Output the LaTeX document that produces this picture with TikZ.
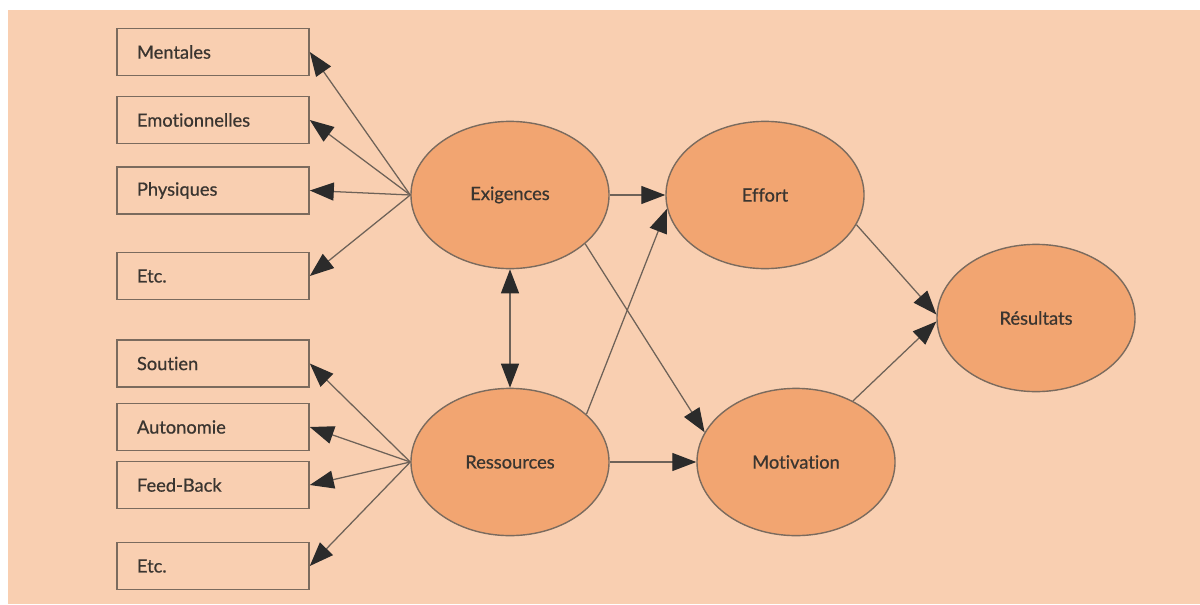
\documentclass[tikz,border=0pt]{standalone}
\usepackage{fontspec}
\setmainfont{Lato}[FakeBold=0.6,Ligatures=NoCommon]
\usetikzlibrary{arrows.meta,shapes.geometric}
\definecolor{peche}{HTML}{F9CFB1}
\definecolor{orangec}{HTML}{F2A571}
\definecolor{bordure}{HTML}{7B6B5E}
\definecolor{trait}{HTML}{6E6258}
\definecolor{pointe}{HTML}{2B2B2B}
\definecolor{texte}{HTML}{3A3530}
\begin{document}
\begin{tikzpicture}[x=0.025cm,y=-0.025cm]
\tikzstyle{facteur}=[draw=bordure, line width=1.1pt, fill=peche, minimum height=1.175cm, text width=3.8cm, inner xsep=0.5cm, inner ysep=0pt, align=left, font=\fontsize{13}{15}\selectfont, text=texte]
\tikzstyle{bulle}=[ellipse, draw=bordure, line width=1pt, fill=orangec, minimum width=4.95cm, minimum height=3.68cm, inner sep=0pt, font=\fontsize{13}{15}\selectfont, text=texte]
\tikzstyle{fleche}=[draw=trait, line width=0.9pt, -{Triangle[length=0.6cm,width=0.45cm,color=pointe]}]
\fill [white] (0,0) rectangle (1200,604);
\fill [peche] (8,10) rectangle (1200,604);
\node [facteur] (ment) at (213,52) {Mentales};
\node [facteur] (emot) at (213,120) {Emotionnelles};
\node [facteur] (phys) at (213,190.5) {Physiques};
\node [facteur] (etcA) at (213,276) {Etc.};
\node [facteur] (sout) at (213,363.5) {Soutien};
\node [facteur] (auto) at (213,427) {Autonomie};
\node [facteur] (feed) at (213,485) {Feed-Back};
\node [facteur] (etcB) at (213,566) {Etc.};
\node [bulle] (exig) at (510,195) {Exigences};
\node [bulle] (eff) at (765,195) {Effort};
\node [bulle] (ress) at (510,462) {Ressources};
\node [bulle] (motiv) at (796,462) {Motivation};
\node [bulle] (resu) at (1036,318) {Résultats};
\draw [fleche] (exig.west) -- (ment.east);
\draw [fleche] (exig.west) -- (emot.east);
\draw [fleche] (exig.west) -- (phys.east);
\draw [fleche] (exig.west) -- (etcA.east);
\draw [fleche] (ress.west) -- (sout.east);
\draw [fleche] (ress.west) -- (auto.east);
\draw [fleche] (ress.west) -- (feed.east);
\draw [fleche] (ress.west) -- (etcB.east);
\draw [fleche,{Triangle[length=0.6cm,width=0.45cm,color=pointe]}-{Triangle[length=0.6cm,width=0.45cm,color=pointe]}] (exig.south) -- (ress.north);
\draw [fleche] (exig.east) -- (eff.west);
\draw [fleche] (ress.east) -- (motiv.west);
\draw [fleche] (ress.32) -- (eff.188);
\draw [fleche] (exig.-33) -- (motiv.162);
\draw [fleche] (eff.-18) -- (resu.178);
\draw [fleche] (motiv.47) -- (resu.182);
\end{tikzpicture}
\end{document}
